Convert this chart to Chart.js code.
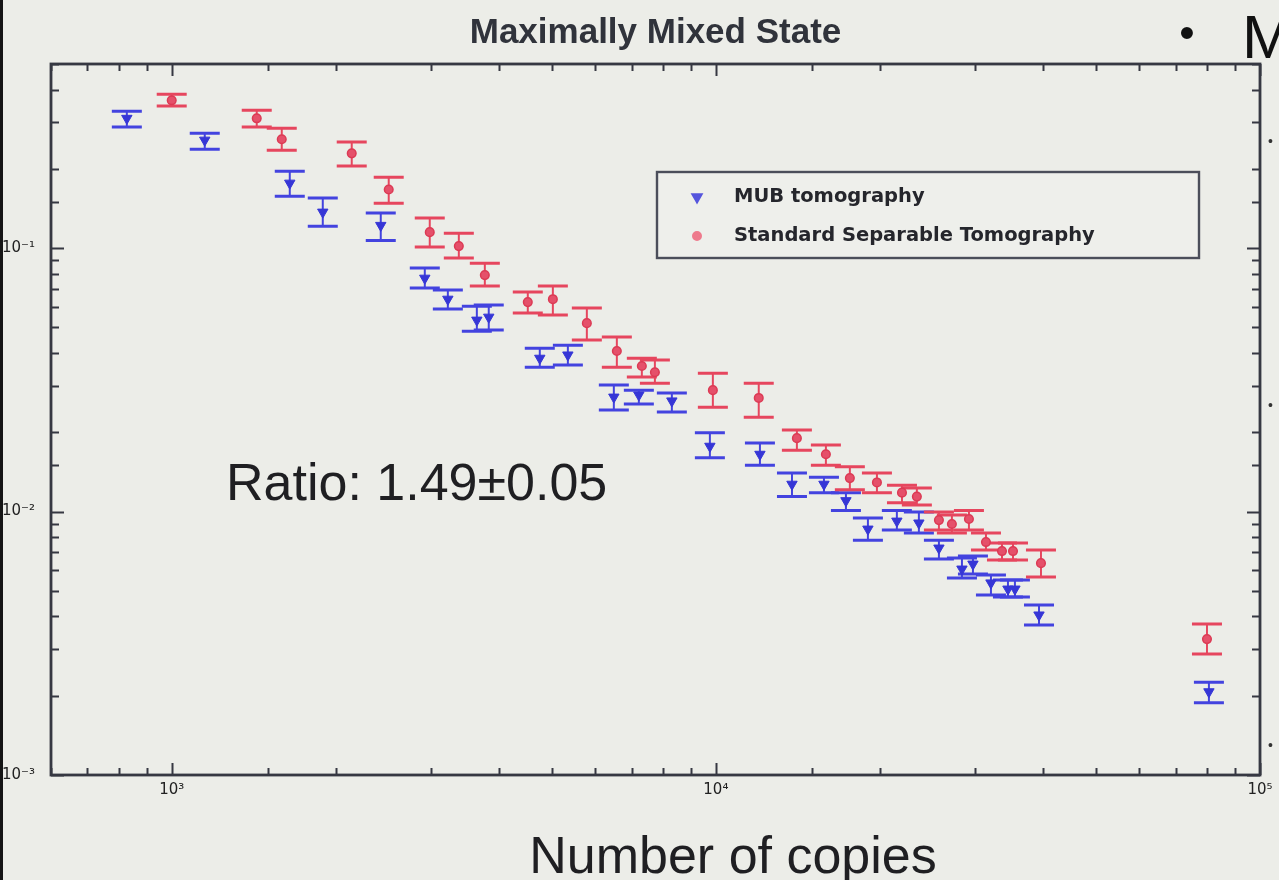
<!DOCTYPE html>
<html>
<head>
<meta charset="utf-8">
<title>Maximally Mixed State</title>
<script src="https://cdn.jsdelivr.net/npm/chart.js@4.4.1/dist/chart.umd.min.js"></script>
<style>
  html, body { margin: 0; padding: 0; background: #ecede8; }
  #wrap { position: relative; width: 1279px; height: 880px; overflow: hidden; background: #ecede8; }
  canvas { display: block; }
</style>
</head>
<body>
<div id="wrap"><canvas id="chart" width="1279" height="880"></canvas></div>
<script>
// ---- data -------------------------------------------------------------
const seriesNames = ['MUB tomography', 'Standard Separable Tomography'];

// MUB tomography: number of copies, value, lower / upper error bar ends
const mubCopies = [827, 1150, 1648, 1895, 2422, 2918, 3217, 3637, 3825, 4747,
                   5346, 6494, 7219, 8301, 9750, 12050, 13800, 15800, 17340, 19030,
                   21510, 23610, 25700, 28330, 29680, 32030, 34420, 35450, 39250, 80560];
const mubValue  = [0.311, 0.257, 0.1765, 0.137, 0.122, 0.0769, 0.064, 0.0533, 0.0547, 0.0382,
                   0.0393, 0.0272, 0.0277, 0.0263, 0.0177, 0.0165, 0.0127, 0.0127, 0.0110, 0.00858,
                   0.00920, 0.00905, 0.00727, 0.00605, 0.00632, 0.00536, 0.00508, 0.00508, 0.00405, 0.00207];
const mubLow    = [0.288, 0.2375, 0.1575, 0.121, 0.107, 0.0705, 0.0587, 0.0484, 0.0489, 0.0353,
                   0.0360, 0.0243, 0.0256, 0.0239, 0.0160, 0.0150, 0.0114, 0.0118, 0.0101, 0.00779,
                   0.00851, 0.00829, 0.00660, 0.00559, 0.00579, 0.00482, 0.00474, 0.00474, 0.00371, 0.00188];
const mubHigh   = [0.331, 0.273, 0.196, 0.155, 0.136, 0.084, 0.0693, 0.0602, 0.0608, 0.0417,
                   0.0428, 0.0302, 0.0289, 0.0282, 0.0199, 0.0182, 0.0140, 0.0135, 0.0118, 0.00945,
                   0.0101, 0.00996, 0.00779, 0.00666, 0.00678, 0.00574, 0.00550, 0.00550, 0.00442, 0.00225];

// Standard separable tomography
const sstCopies = [1000, 1433, 1593, 2142, 2505, 2980, 3370, 3762, 4512, 5017,
                   5793, 6577, 7311, 7726, 9874, 11990, 14090, 15930, 17630, 19770,
                   21980, 23410, 25700, 27150, 29180, 31360, 33560, 35160, 39580, 79900];
const sstValue  = [0.364, 0.311, 0.259, 0.229, 0.167, 0.115, 0.1018, 0.079, 0.0624, 0.064,
                   0.0519, 0.0407, 0.0357, 0.0338, 0.0289, 0.027, 0.019, 0.0165, 0.0134, 0.0129,
                   0.0118, 0.0114, 0.00928, 0.00897, 0.00937, 0.00766, 0.00708, 0.00708, 0.00637, 0.00328];
const sstLow    = [0.346, 0.288, 0.2354, 0.2048, 0.1482, 0.1009, 0.0917, 0.0718, 0.0567, 0.0557,
                   0.0448, 0.0353, 0.0324, 0.0307, 0.0249, 0.0228, 0.0171, 0.0150, 0.0121, 0.0118,
                   0.0108, 0.0106, 0.00851, 0.00829, 0.00851, 0.00714, 0.00655, 0.00655, 0.00564, 0.00288];
const sstHigh   = [0.384, 0.334, 0.2854, 0.2526, 0.1859, 0.130, 0.114, 0.0877, 0.0681, 0.0718,
                   0.0592, 0.046, 0.0382, 0.0376, 0.0335, 0.0307, 0.0204, 0.0179, 0.0148, 0.0140,
                   0.0126, 0.0123, 0.00996, 0.00970, 0.0101, 0.00829, 0.00760, 0.00760, 0.00714, 0.00374];

// axis ranges and decade labels
const xRange = [600, 100000];
const yRange = [0.001, 0.5];
const xDecades = [1e3, 1e4, 1e5];
const xDecadeLabels = ['10\u00B3', '10\u2074', '10\u2075'];
const yDecades = [1e-3, 1e-2, 1e-1];
const yDecadeLabels = ['10\u207B\u00B3', '10\u207B\u00B2', '10\u207B\u00B9'];

// slide texts
const titleText = 'Maximally Mixed State';
const xAxisText = 'Number of copies';
const ratioText = 'Ratio: 1.49\u00B10.05';

// ---- helpers ----------------------------------------------------------
const isDecade = v => Math.abs(Math.log10(v) - Math.round(Math.log10(v))) < 1e-6;
function decadeLabel(value, decades, labels) {
  const i = decades.findIndex(d => Math.abs(Math.log10(value) - Math.log10(d)) < 1e-6);
  return i >= 0 ? labels[i] : '';
}
const toPoints = (xs, ys, lo, hi) => xs.map((x, i) => ({ x, y: ys[i], yMin: lo[i], yMax: hi[i] }));

// vertical error bars with caps, drawn under the markers
const errorBars = {
  id: 'errorBars',
  beforeDatasetsDraw(chart) {
    const { ctx, chartArea } = chart;
    const xs = chart.scales.x, ys = chart.scales.y;
    ctx.save();
    ctx.beginPath();
    ctx.rect(chartArea.left, chartArea.top, chartArea.right - chartArea.left, chartArea.bottom - chartArea.top);
    ctx.clip();
    chart.data.datasets.forEach((ds, i) => {
      if (!chart.isDatasetVisible(i)) return;
      ctx.strokeStyle = ds.errorColor;
      ds.data.forEach(p => {
        const px = xs.getPixelForValue(p.x);
        const yLo = ys.getPixelForValue(p.yMin);
        const yHi = ys.getPixelForValue(p.yMax);
        const half = ds.capHalfWidth;
        ctx.lineWidth = 2;
        ctx.beginPath();
        ctx.moveTo(px, yLo); ctx.lineTo(px, yHi);
        ctx.stroke();
        ctx.lineWidth = 3;
        ctx.beginPath();
        ctx.moveTo(px - half, yLo); ctx.lineTo(px + half, yLo);
        ctx.moveTo(px - half, yHi); ctx.lineTo(px + half, yHi);
        ctx.stroke();
      });
    });
    ctx.restore();
  }
};

// box frame with inward major / minor ticks on all four sides
const axisFrame = {
  id: 'axisFrame',
  afterDraw(chart) {
    const { ctx, chartArea: a } = chart;
    const xs = chart.scales.x, ys = chart.scales.y;
    ctx.save();
    ctx.strokeStyle = '#363842';
    ctx.lineWidth = 2;
    ctx.beginPath();
    xs.ticks.forEach(t => {
      const px = Math.round(xs.getPixelForValue(t.value)) + 0.5;
      const len = isDecade(t.value) ? 12 : 7;
      ctx.moveTo(px, a.bottom); ctx.lineTo(px, a.bottom - len);
      ctx.moveTo(px, a.top); ctx.lineTo(px, a.top + len);
    });
    ys.ticks.forEach(t => {
      const py = Math.round(ys.getPixelForValue(t.value)) + 0.5;
      const len = isDecade(t.value) ? 13 : 8;
      ctx.moveTo(a.left, py); ctx.lineTo(a.left + len, py);
      ctx.moveTo(a.right, py); ctx.lineTo(a.right - len, py);
    });
    ctx.stroke();
    ctx.lineWidth = 2.8;
    ctx.strokeRect(a.left, a.top, a.right - a.left, a.bottom - a.top);
    ctx.restore();
  }
};

// boxed legend in the upper right of the plot
const boxedLegend = {
  id: 'boxedLegend',
  afterDraw(chart) {
    const { ctx } = chart;
    const box = { x: 657, y: 172, w: 542, h: 86 };
    ctx.save();
    ctx.fillStyle = '#eeefeb';
    ctx.fillRect(box.x, box.y, box.w, box.h);
    ctx.strokeStyle = '#4b4e5a';
    ctx.lineWidth = 2.4;
    ctx.strokeRect(box.x, box.y, box.w, box.h);
    chart.data.datasets.forEach((ds, i) => {
      const cy = box.y + 25 + i * 39;
      ctx.fillStyle = ds.legendColor;
      ctx.strokeStyle = ds.legendColor;
      Chart.helpers.drawPoint(ctx, {
        pointStyle: ds.pointStyle, rotation: ds.rotation || 0,
        radius: ds.legendRadius, borderWidth: 1
      }, box.x + 40, cy);
      ctx.fillStyle = '#25262c';
      ctx.font = 'bold 19.5px "DejaVu Sans", sans-serif';
      ctx.textAlign = 'left';
      ctx.textBaseline = 'middle';
      ctx.fillText(ds.label, box.x + 77, cy);
    });
    ctx.restore();
  }
};

// slide texts around the axes
const slideText = {
  id: 'slideText',
  afterDraw(chart) {
    const { ctx, chartArea: a } = chart;
    ctx.save();
    ctx.textBaseline = 'alphabetic';
    // title over the axes
    ctx.fillStyle = '#30333b';
    ctx.font = 'bold 35px "Liberation Sans", Arial, sans-serif';
    ctx.textAlign = 'center';
    ctx.fillText(titleText, (a.left + a.right) / 2, 43);
    // x axis caption
    ctx.fillStyle = '#1f1f22';
    ctx.font = '52px "Liberation Sans", Arial, sans-serif';
    ctx.fillText(xAxisText, 733, 873);
    // ratio annotation
    ctx.textAlign = 'left';
    ctx.fillText(ratioText, 226, 500);
    // bullet line of the slide, cut by the right edge
    ctx.fillStyle = '#111';
    ctx.font = '44px "Liberation Sans", Arial, sans-serif';
    ctx.textAlign = 'center';
    ctx.fillText('\u2022', 1187, 48);
    ctx.textAlign = 'left';
    ctx.font = '62px "Liberation Sans", Arial, sans-serif';
    ctx.fillText('M', 1242, 58);
    ctx.font = '14px "Liberation Sans", Arial, sans-serif';
    ctx.fillStyle = '#333';
    [146, 410, 750].forEach(y => ctx.fillText('\u2022', 1268, y));
    // slide border on the left
    ctx.fillStyle = '#151515';
    ctx.fillRect(0, 0, 3, 880);
    ctx.restore();
  }
};

const tickFont = { family: '"DejaVu Sans", "Liberation Sans", Arial, sans-serif', size: 15 };

new Chart(document.getElementById('chart'), {
  type: 'scatter',
  data: {
    datasets: [
      {
        label: seriesNames[0],
        data: toPoints(mubCopies, mubValue, mubLow, mubHigh),
        pointStyle: 'triangle', rotation: 180, pointRadius: 6,
        backgroundColor: '#3636d6', borderColor: '#3636d6', borderWidth: 1,
        errorColor: '#4343df', capHalfWidth: 15,
        legendColor: '#5555dd', legendRadius: 5
      },
      {
        label: seriesNames[1],
        data: toPoints(sstCopies, sstValue, sstLow, sstHigh),
        pointStyle: 'circle', pointRadius: 4.3,
        backgroundColor: '#e5506a', borderColor: '#dc3a54', borderWidth: 1.5,
        errorColor: '#e6465e', capHalfWidth: 15,
        legendColor: '#ee7a8c', legendRadius: 3.8
      }
    ]
  },
  options: {
    responsive: false,
    animation: false,
    devicePixelRatio: 1,
    events: [],
    layout: { padding: { left: 0, right: 19, top: 64, bottom: 0 } },
    plugins: {
      legend: { display: false },
      tooltip: { enabled: false },
      title: { display: false }
    },
    scales: {
      x: {
        type: 'logarithmic',
        position: 'bottom',
        min: xRange[0], max: xRange[1],
        grid: { display: false, drawTicks: false },
        border: { display: false },
        ticks: {
          autoSkip: false, maxRotation: 0, minRotation: 0, padding: 6,
          color: '#222', font: tickFont,
          callback: v => decadeLabel(v, xDecades, xDecadeLabels)
        },
        afterFit: s => { s.height = 105; }
      },
      y: {
        type: 'logarithmic',
        position: 'left',
        min: yRange[0], max: yRange[1],
        grid: { display: false, drawTicks: false },
        border: { display: false },
        ticks: {
          autoSkip: false, padding: 16,
          color: '#222', font: tickFont,
          callback: v => decadeLabel(v, yDecades, yDecadeLabels)
        },
        afterFit: s => { s.width = 51; }
      }
    }
  },
  plugins: [errorBars, axisFrame, boxedLegend, slideText]
});
</script>
</body>
</html>
